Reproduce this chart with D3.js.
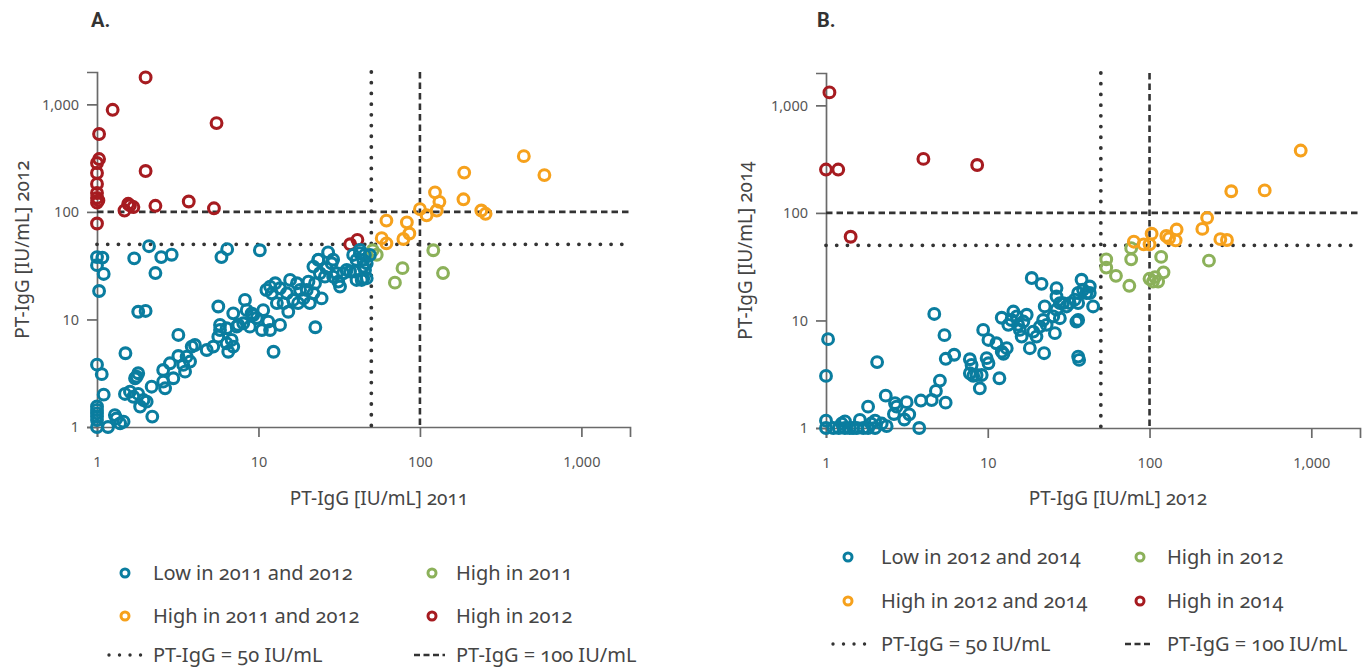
<!DOCTYPE html>
<html>
<head>
<meta charset="utf-8">
<script src="https://cdn.jsdelivr.net/npm/d3@7"></script>
<style>
  body { margin: 0; background: #fff; }
  svg text { font-family: "Noto Sans", "Open Sans", sans-serif; fill: #454545; }
  .axis path, .axis line { stroke: #6a6a6a; stroke-width: 1.7; }
  .axis text { font-size: 14.5px; fill: #555; font-family: "Noto Sans", sans-serif; }
  .onum { font-variant-numeric: oldstyle-nums; font-feature-settings: "onum" 1; }
  .panel-title { font-family: "Liberation Sans Narrow", "Roboto", sans-serif; font-weight: bold; font-size: 20px; fill: #333; }
</style>
</head>
<body>
<svg id="svgchart"></svg>
<script>
'use strict'

const chartWidth = 1367,
      chartHeight = 668

// ---- data: PT-IgG pairs [first year, second year] in IU/mL ----
// panel A: 2011 vs 2012
const lowA = [
  [2.1,48],[6.4,45],[10.2,44],[2.9,40],[2.5,38],[1.7,37],[1.0,38],[1.08,37.6],[5.9,38],[27,42],[29,36],[23.5,36],
  [1.0,32],[1.1,26.5],[1.03,18.4],[2.3,27],[1.8,11.8],[2.0,12],[1.5,4.85],[1.0,3.8],[1.07,3.1],[1.1,2.0],
  [1,1.55],[1,1.44],[1,1.34],[1,1.25],[1,1.16],[1,1.0],[1.17,1.0],[1.29,1.29],[1.39,1.08],[1.46,1.12],[1.32,1.2],[2.2,1.25],
  [1.49,2.03],[1.6,2.13],[1.68,1.91],[1.8,2.03],[1.94,1.78],[1.85,1.55],[2.03,1.72],[2.18,2.37],[1.76,2.94],[1.8,3.16],[1.72,2.84],
  [2.57,3.39],[2.83,3.91],[3.19,4.57],[3.59,4.51],[2.97,2.84],[2.64,2.29],[2.57,2.64],[3.42,3.78],[3.77,4.06],[4.04,5.79],[3.86,5.59],[3.51,3.27],[3.19,7.18],
  [4.78,5.2],[5.25,5.59],[5.64,6.92],[5.78,8.89],[6.35,8.28],[6.5,5.01],[6.98,5.59],[5.64,13.2],[6.98,11.4],[7.33,8.57],[8.25,15.2],
  [8.05,9.22],[8.85,8.57],[9.07,11.4],[9.75,10.3],[10.5,7.98],[10.7,12.2],[11.5,9.55],[11.8,7.98],[12.4,5.01],[13.6,8.89],
  [12.1,17.5],[12.7,21.7],[13.6,19.5],[15,17.5],[15.7,23.3],[14.3,14.2],[15.3,11.8],[17.3,21.7],[18.1,18.8],[19,15.7],
  [20.8,14.2],[21.9,17.5],[22.4,21.7],[24,26.9],[20.4,22.5],[21.9,31],[23.5,35.8],[26.4,29.9],[28.4,33.3],[29,25],[32,20.2],
  [33.5,26.9],[36.9,27.9],[38.6,39.8],[42.5,41.3],[44.6,35.8],[44.6,24.2],[40.5,23.3],[35.2,28.9],[24.6,15.7],[22.5,8.46],
  [42.5,44.3],[45.6,39.8],[40.5,35.8],[44.6,31],[39.6,27.9],[43.6,23.3],[46.8,24.2],
  [8.45,12.2],[9.29,11],[11.2,18.8],[11.8,20.2],[13,14.2],[16.4,15.2],[17.6,14.2],[19.9,18.8],[25.8,25],[31.2,22.5],[30.5,26.9],
  [46.8,33.3],[49,39.8],[45.7,28.9],[6.35,6.0],[6.82,6.45],[7.5,8.89],[5.78,7.98]
]
const highBothA = [
  [440,330],[590,220],[188,232],[124,152],[132,124],[186,131],[127,103],[110,93],[100,106],[240,103],[255,96],
  [62,83],[83,80],[86,63],[79,56],[58,57],[62,51]
]
const high2011A = [[51,44],[54,40],[121,44],[78,30],[70,22],[139,27]]
const high2012A = [
  [2.0,1780],[1.25,890],[1.03,530],[5.5,670],[2.0,240],[1.03,310],[1.0,285],[1.0,230],[1.0,182],[1.0,150],
  [1.0,135],[1.0,122],[1.02,128],[1.0,78],[1.56,119],[1.68,111],[1.48,103],[1.6,115],[2.3,114],[3.7,125],[5.3,108],
  [37,50],[41,55]
]

// panel B: 2012 vs 2014
const lowB = [
  [1.03,6.7],[1.0,3.05],[1.0,1.17],[1.0,1.0],[1.11,1.0],[1.31,1.15],[1.31,1.0],[1.47,1.0],[1.62,1.19],[1.7,1.0],[1.82,1.0],
  [2.01,1.17],[2.01,1.0],[2.21,1.1],[2.37,1.04],[1.2,1.0],[1.4,1.0],[1.55,1.0],[1.25,1.1],[1.9,1.1],
  [2.07,4.1],[1.82,1.58],[2.34,2.0],[2.67,1.7],[2.73,1.58],[3.15,1.74],[2.63,1.35],[3.05,1.2],[3.27,1.34],[3.77,1.0],
  [3.86,1.8],[4.5,1.82],[4.78,2.21],[5.06,2.76],[5.49,1.72],[4.67,11.5],[5.4,7.3],[5.5,4.4],[6.2,4.8],
  [7.75,4.36],[7.94,3.86],[7.75,3.23],[8.13,3.05],[8.53,3.11],[9.17,3.11],[8.93,2.34],[9.84,4.46],[10.1,4.0],[9.37,8.17],
  [10.1,6.59],[11.3,6.14],[11.8,2.9],[12.2,5.13],[12.5,4.89],[13.1,5.52],[12.2,10.6],
  [13.4,9.1],[14,10.1],[14.4,12.1],[15.1,10.9],[15.4,9.1],[15.8,8.17],[16.2,7.08],[16.6,9.77],[17.4,11.3],[18.2,5.52],
  [19.1,7.88],[20,7.08],[21,8.77],[22,10.1],[22.5,13.5],[23.1,9.1],[22.3,4.96],[26,7.62],[25.4,10.9],[26.6,12.6],[26.6,16.7],
  [27.9,14.5],[27.9,10.5],[29.2,14.5],[30.7,13.5],[32.1,14.5],[34.5,15.6],[36.2,18],[38.8,19.3],[40.7,18],[42.7,20.7],
  [44.8,13.5],[38,23.9],[36.2,10.1],[35.3,9.77],[36.2,4.61],[36.7,4.3],[18.7,24.8],[21.5,21.9],[26.6,20],[42.7,18],[36.2,14.5]
]
const highBothB = [
  [860,380],[320,159],[515,162],[227,90],[212,71],[274,57],[301,56],[147,70],[145,55.5],[127,61],[132,58],
  [103,64],[100,51],[92,51],[80,54]
]
const high2012B = [
  [54,37],[54,31],[77,47],[77,37],[62,26],[75,21],[118,39],[122,28],[100,24.4],[108,25.3],[113,23],[105,23],[233,36]
]
const high2014B = [[1.05,1320],[1.0,253],[1.19,253],[4.0,318],[8.6,279],[1.42,60]]

const tickValues = [1, 10, 100, 1000]
const tickLabels = ['1', '10', '100', '1,000']
const domainMax = 2000
const thresholdLow = 50,
      thresholdHigh = 100

const colors = { low: '#0a7d9f', both: '#f6a11c', first: '#8cb15a', second: '#a61b20' }

const legendA = ['Low in 2011 and 2012', 'High in 2011', 'High in 2011 and 2012', 'High in 2012']
const legendB = ['Low in 2012 and 2014', 'High in 2012', 'High in 2012 and 2014', 'High in 2014']
const lineLegend = ['PT-IgG = 50 IU/mL', 'PT-IgG = 100 IU/mL']

const svg = d3.select('#svgchart')
  .attr('width', chartWidth)
  .attr('height', chartHeight)

const panels = [
  {
    title: 'A.', titleX: 91,
    left: 97, right: 630, top: 72, bottom: 427,
    xTitle: 'PT-IgG [IU/mL] 2011', xTitleX: 379,
    yTitle: 'PT-IgG [IU/mL] 2012', yTitleX: 22,
    groups: [
      { data: high2012A, color: colors.second },
      { data: high2011A, color: colors.first },
      { data: highBothA, color: colors.both },
      { data: lowA, color: colors.low }
    ],
    legend: legendA,
    legendColors: [colors.low, colors.first, colors.both, colors.second],
    legendRows: [573, 616, 655],
    markerX: [125, 432], textX: [153, 456],
    swatch: [[109, 142], [414, 445]]
  },
  {
    title: 'B.', titleX: 817,
    left: 826, right: 1360, top: 73, bottom: 428,
    xTitle: 'PT-IgG [IU/mL] 2012', xTitleX: 1118,
    yTitle: 'PT-IgG [IU/mL] 2014', yTitleX: 745,
    groups: [
      { data: high2014B, color: colors.second },
      { data: high2012B, color: colors.first },
      { data: highBothB, color: colors.both },
      { data: lowB, color: colors.low }
    ],
    legend: legendB,
    legendColors: [colors.low, colors.first, colors.both, colors.second],
    legendRows: [557, 601, 644],
    markerX: [848, 1140], textX: [881, 1167],
    swatch: [[833, 865], [1125, 1153]]
  }
]

const dotted = { dash: '0.01,10.7', width: 3.8, cap: 'round' }
const dashed = { dash: '6.5,4', width: 2.6, cap: 'butt' }

panels.forEach(p => {
  const g = svg.append('g')

  const x = d3.scaleLog().domain([1, domainMax]).range([p.left, p.right])
  const y = d3.scaleLog().domain([1, domainMax]).range([p.bottom, p.top])

  // panel letter
  g.append('text')
    .attr('class', 'panel-title')
    .attr('x', p.titleX).attr('y', 27)
    .text(p.title)

  // axes
  g.append('g')
    .attr('class', 'axis')
    .attr('transform', 'translate(0,' + p.bottom + ')')
    .call(d3.axisBottom(x).tickValues(tickValues).tickSizeOuter(0).tickSize(10).tickPadding(20)
      .tickFormat((d, i) => tickLabels[i]))
  g.append('g')
    .attr('class', 'axis')
    .attr('transform', 'translate(' + p.left + ',0)')
    .call(d3.axisLeft(y).tickValues(tickValues).tickSizeOuter(0).tickSize(10).tickPadding(8)
      .tickFormat((d, i) => tickLabels[i]))

  // threshold lines
  const refLines = [
    { v: thresholdLow, style: dotted },
    { v: thresholdHigh, style: dashed }
  ]
  refLines.forEach(r => {
    g.append('line')
      .attr('x1', p.left).attr('x2', p.right)
      .attr('y1', y(r.v)).attr('y2', y(r.v))
      .attr('stroke', '#333').attr('stroke-width', r.style.width)
      .attr('stroke-dasharray', r.style.dash).attr('stroke-linecap', r.style.cap)
    g.append('line')
      .attr('x1', x(r.v)).attr('x2', x(r.v))
      .attr('y1', p.top).attr('y2', p.bottom)
      .attr('stroke', '#333').attr('stroke-width', r.style.width)
      .attr('stroke-dasharray', r.style.dash).attr('stroke-linecap', r.style.cap)
  })

  // points
  p.groups.forEach(grp => {
    g.append('g')
      .selectAll('circle')
      .data(grp.data)
      .enter().append('circle')
        .attr('cx', d => x(d[0]))
        .attr('cy', d => y(d[1]))
        .attr('r', 5.4)
        .attr('fill', 'none')
        .attr('stroke', grp.color)
        .attr('stroke-width', 3.1)
  })

  // axis titles
  g.append('text')
    .attr('class', 'onum')
    .attr('x', p.xTitleX).attr('y', 505)
    .attr('text-anchor', 'middle')
    .style('font-size', '19px')
    .text(p.xTitle)
  g.append('text')
    .attr('class', 'onum')
    .attr('transform', 'translate(' + p.yTitleX + ',' + ((p.top + p.bottom) / 2) + ') rotate(-90)')
    .attr('dy', '0.35em')
    .attr('text-anchor', 'middle')
    .style('font-size', '19px')
    .text(p.yTitle)

  // legend: markers
  const leg = g.append('g')
  p.legend.forEach((label, i) => {
    const col = i % 2, row = Math.floor(i / 2)
    const ly = p.legendRows[row]
    leg.append('circle')
      .attr('cx', p.markerX[col]).attr('cy', ly)
      .attr('r', 4)
      .attr('fill', 'none')
      .attr('stroke', p.legendColors[i])
      .attr('stroke-width', 3)
    leg.append('text')
      .attr('class', 'onum')
      .attr('x', p.textX[col]).attr('y', ly)
      .attr('dy', '0.35em')
      .style('font-size', '20px')
      .text(label)
  })
  // legend: threshold lines
  const ly = p.legendRows[2]
  ;[dotted, dashed].forEach((st, col) => {
    leg.append('line')
      .attr('x1', p.swatch[col][0]).attr('x2', p.swatch[col][1])
      .attr('y1', ly).attr('y2', ly)
      .attr('stroke', '#333').attr('stroke-width', col === 0 ? 3.4 : 2.4)
      .attr('stroke-dasharray', col === 0 ? '0.01,10.5' : '6,3.5')
      .attr('stroke-linecap', st.cap)
    leg.append('text')
      .attr('class', 'onum')
      .attr('x', p.textX[col]).attr('y', ly)
      .attr('dy', '0.35em')
      .style('font-size', '20px')
      .text(lineLegend[col])
  })
})
</script>
</body>
</html>
